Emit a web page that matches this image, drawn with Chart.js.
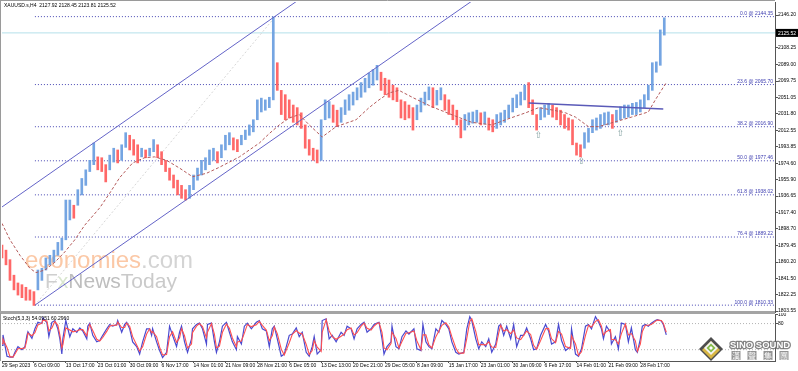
<!DOCTYPE html>
<html><head><meta charset="utf-8">
<script src="https://cdn.jsdelivr.net/npm/chart.js@4.4.1/dist/chart.umd.min.js"></script>
<style>
html,body{margin:0;padding:0;background:#fff;width:798px;height:371px;overflow:hidden}
#wrap{position:relative;width:798px;height:371px}
canvas{position:absolute;left:0}
#c1{top:0;width:798px;height:313px}
#c2{top:313px;width:798px;height:58px}
</style></head><body>
<div id="wrap">
<canvas id="c1" width="798" height="313"></canvas>
<canvas id="c2" width="798" height="58"></canvas>
</div>
<script>
// ---------- DATA ----------
const symbolName = 'XAUUSD.s,H4';
const lastOHLC = [2127.92, 2128.45, 2123.81, 2125.52];
const timeLabels = ["29 Sep 2023","6 Oct 09:00","13 Oct 17:00","23 Oct 01:00","30 Oct 09:00","6 Nov 17:00","14 Nov 01:00","21 Nov 09:00","28 Nov 21:00","6 Dec 05:00","13 Dec 13:00","20 Dec 21:00","29 Dec 05:00","8 Jan 09:00","15 Jan 17:00","23 Jan 01:00","30 Jan 09:00","6 Feb 17:00","14 Feb 01:00","21 Feb 09:00","28 Feb 17:00"];
const priceTicks = [2146.20,2127.50,2108.25,2089.00,2069.75,2051.05,2031.80,2012.55,1993.85,1974.60,1955.90,1936.65,1917.40,1898.70,1879.45,1860.20,1841.50,1822.25,1803.55];
// bar samples every 4 H4 bars
const candleHigh = [1880,1874,1863,1845,1836,1834,1831,1828,1826,1851,
1853,1865,1868,1874,1883,1888,1932,1932,1926,1944,
1957,1967,1978,1998,1982,1981,1973,1984,1992,1990,
1996,2010,2007,2002,1996,1992,1990,1992,2002,1996,
1988,1978,1969,1961,1955,1949,1944,1949,1961,1969,
1978,1981,1990,1992,1988,1996,2007,2010,2004,2002,
2007,2013,2019,2025,2048,2050,2048,2051,2144,2091,
2059,2054,2048,2042,2039,2033,2019,2002,1992,1990,
2025,2048,2046,2042,2036,2039,2048,2054,2057,2062,
2068,2073,2079,2083,2088,2080,2073,2071,2065,2062,
2048,2046,2042,2039,2042,2050,2057,2063,2062,2059,
2062,2054,2048,2042,2036,2025,2031,2033,2034,2036,
2033,2034,2027,2025,2031,2033,2036,2042,2050,2054,
2057,2065,2068,2048,2031,2039,2042,2044,2042,2039,
2036,2031,2027,2025,1998,1996,2010,2015,2025,2027,
2031,2033,2034,2031,2036,2040,2042,2042,2044,2045,
2048,2054,2065,2091,2092,2129,2143];
const candleLow = [1865,1857,1839,1828,1822,1819,1816,1816,1810,1828,
1839,1851,1857,1860,1868,1874,1886,1909,1911,1926,
1938,1949,1965,1973,1967,1965,1953,1967,1976,1975,
1978,1993,1990,1984,1975,1982,1981,1983,1988,1981,
1973,1965,1955,1946,1938,1934,1932,1934,1944,1955,
1961,1967,1973,1978,1975,1981,1990,1996,1990,1988,
1996,2002,2007,2011,2025,2034,2036,2039,2048,2059,
2031,2025,2027,2022,2019,2015,1992,1984,1978,1975,
1978,2025,2027,2022,2017,2022,2031,2036,2042,2048,
2051,2057,2062,2065,2071,2059,2054,2051,2048,2046,
2027,2025,2027,2013,2025,2034,2042,2048,2039,2042,
2048,2036,2031,2025,2019,2004,2013,2019,2021,2022,
2019,2020,2013,2011,2015,2019,2022,2027,2034,2039,
2042,2048,2039,2031,2013,2025,2028,2031,2028,2025,
2019,2015,2013,1996,1984,1982,1992,1999,2010,2013,
2015,2019,2019,2015,2022,2025,2027,2028,2031,2031,
2034,2039,2048,2059,2080,2088,2123];
const maBars = [0,8,18,28,34,43,53,63,73,83,98,108,118,131,143,153,165,178,191,205,218,238,258,268,278,288,298,308,321,335,355,368,378,388,398,413,431,455,471,491,505,525,538,553,565,575,588,598,613,631,648,655,666];
const maValues = [1905,1886,1868,1853,1848,1851,1860,1872,1886,1903,1923,1940,1958,1975,1981,1982,1978,1969,1959,1963,1970,1982,1998,2009,2019,2027,2031,2019,2005,2017,2025,2039,2048,2056,2059,2050,2040,2029,2022,2019,2025,2033,2039,2036,2033,2028,2017,2017,2022,2028,2034,2048,2068];
const fibLevels = ["0.0","23.6","38.2","50.0","61.8","76.4","100.0"];
const fibPrices = [2144.35,2065.70,2016.90,1977.46,1938.02,1889.22,1810.33];
const fibStartBar = 33;
const channelUpper = [[0,1924],[320,2182]];
const channelLower = [[33,1810.33],[488,2176]];
const fibTrend = [[33,1810.33],[274,2144.35]];
const resistLine = [[528,2044.4],[663,2037.4]];
const arrowBars = [538,581,620];
const arrowPrices = [2006,1976,2009];
const stochBars = [0,1,5,8,11,13,16,20,23,25,26,30,33,36,40,41,45,47,50,53,56,58,60,61,64,68,71,75,78,81,85,86,88,91,95,98,101,105,108,111,115,116,120,123,125,128,131,135,138,141,145,148,150,151,155,158,161,165,168,171,175,178,180,183,186,190,191,195,198,201,205,206,210,213,215,218,221,225,228,231,235,236,240,243,246,250,255,258,261,265,268,271,273,276,280,283,288,291,295,298,301,305,308,311,313,316,320,321,325,328,331,335,340,343,346,350,353,356,360,363,366,370,373,376,378,381,383,386,390,391,395,398,401,405,408,413,416,420,422,425,428,431,435,438,441,445,448,451,455,458,463,466,469,471,475,478,481,485,488,491,495,498,500,503,506,510,513,516,520,523,526,530,533,536,540,545,548,551,555,558,561,565,570,571,575,578,581,585,588,591,595,598,601,603,606,610,611,615,618,621,625,628,631,635,637,640,642,645,648,651,655,657,661,663,666];
const stochK = [30,54,5,3,3,14,27,20,27,53,61,46,68,83,80,93,82,50,83,87,68,45,10,45,87,50,68,60,70,63,45,74,81,53,38,41,53,68,78,74,78,87,60,78,83,68,38,27,10,38,68,68,53,68,38,18,2,14,74,53,27,60,74,38,14,45,68,78,81,68,33,78,81,38,14,38,74,83,60,38,20,50,33,74,81,68,83,87,68,63,27,68,74,45,5,10,53,56,70,50,60,14,5,27,50,10,20,87,91,45,53,38,60,53,74,68,45,68,78,83,60,68,78,81,83,45,10,27,38,74,27,22,50,63,56,68,22,18,78,38,27,22,68,60,87,78,68,38,14,10,14,68,96,87,45,22,38,27,45,14,33,74,78,53,74,45,78,27,53,53,70,45,20,22,53,78,63,33,38,78,41,18,27,68,10,5,22,74,78,68,96,84,68,45,74,60,33,50,22,81,78,38,70,20,14,45,74,78,74,81,87,89,86,78,54];
const stochD = [34,44,25,4,3,10,22,23,24,43,58,52,59,77,81,88,86,63,70,85,76,54,24,31,70,65,61,63,66,66,52,62,78,64,44,40,48,62,74,76,76,83,71,71,81,74,50,31,17,27,56,68,59,62,50,26,8,9,50,61,37,47,68,52,24,33,59,74,80,73,47,60,80,55,24,28,60,79,69,47,27,38,40,58,78,73,77,85,76,65,41,52,72,57,21,8,36,55,64,58,56,32,9,18,41,26,16,60,89,63,50,44,51,56,66,70,54,59,74,81,69,65,74,80,82,60,24,20,34,60,46,24,39,58,59,63,40,20,54,54,31,24,50,63,76,82,72,50,24,12,12,46,85,91,62,31,32,31,38,26,25,58,76,63,66,57,65,47,43,53,63,55,30,21,41,68,69,45,36,62,56,27,23,52,33,7,15,53,76,72,85,89,74,54,62,66,44,43,33,57,79,54,57,40,16,33,62,76,76,78,85,88,87,81,60];
const stochLabelValues = ['54.0951','60.2960'];
const stochLevels = [80,20];
const stochTicks = [100,80];

// ---------- HELPERS ----------
const FONT = '"Liberation Sans", Arial, sans-serif';
const XMAX = 775;
const pts = arr => arr.map(p => ({x:p[0], y:p[1]}));
const lineDs = (data, color, width, dash, order) => ({type:'line', data, borderColor:color, borderWidth:width, borderDash:dash||[], pointRadius:0, fill:false, order:order, tension:0});

// ---------- MAIN CHART ----------
const upCol = 'rgba(110,160,224,0.95)', dnCol = 'rgba(255,96,96,0.95)';
const candleData = candleHigh.map((h,i) => ({x:i*4, y:[candleLow[i], h]}));
const mainDatasets = [
  {type:'bar', data:candleData, barThickness:2, borderWidth:0, grouped:false, order:2,
   backgroundColor: ctx => { const i = ctx.dataIndex; if (!i) return dnCol;
     return (candleHigh[i]+candleLow[i]) >= (candleHigh[i-1]+candleLow[i-1]) ? upCol : dnCol; }},
  lineDs(maBars.map((b,i)=>({x:b,y:maValues[i]})), '#b45a5a', 1, [3,2], 1),
  lineDs(pts(channelUpper), '#6464c8', 1, [], 1),
  lineDs(pts(channelLower), '#6464c8', 1, [], 1),
  lineDs(pts(fibTrend), '#d6d6d6', 1, [2,2], 3),
  lineDs(pts(resistLine), '#5a5ab8', 1.5, [], 1),
  lineDs([{x:0,y:lastOHLC[3]},{x:XMAX,y:lastOHLC[3]}], '#b4e0ea', 1, [], 3),
];
fibPrices.forEach(p => mainDatasets.push(lineDs([{x:fibStartBar,y:p},{x:XMAX,y:p}], '#4848b4', 1, [1,2], 3)));

const mainDeco = {
  id:'mainDeco',
  beforeDatasetsDraw(chart){
    const c = chart.ctx; c.save();
    c.textBaseline = 'alphabetic'; c.textAlign = 'left';
    c.font = '24px ' + FONT;
    c.fillStyle = '#fbc8a6'; c.fillText('economies', 25, 268);
    const w = c.measureText('economies').width;
    c.fillStyle = '#d4d4d4'; c.fillText('.com', 25 + w, 268);
    c.font = '21px ' + FONT;
    let x = 45;
    [['F','#cfcfcf'],['x','#d9e6cf'],['News','#bebebe'],['Today','#cacaca']].forEach(([t,col]) => {
      c.fillStyle = col; c.fillText(t, x, 288); x += c.measureText(t).width; });
    c.restore();
  },
  afterDatasetsDraw(chart){
    const {ctx:c, scales:{x, y}, chartArea:a} = chart;
    c.save();
    c.font = '5px ' + FONT; c.fillStyle = '#3c3cb0'; c.textAlign = 'right'; c.textBaseline = 'bottom';
    fibLevels.forEach((lv,i) => c.fillText(lv + ' @ ' + fibPrices[i].toFixed(2), a.right - 2, y.getPixelForValue(fibPrices[i]) - 0.5));
    c.font = '9px "DejaVu Sans", sans-serif'; c.fillStyle = '#7f9e9e'; c.textAlign = 'center'; c.textBaseline = 'middle';
    arrowBars.forEach((b,i) => c.fillText('\u21E7', x.getPixelForValue(b), y.getPixelForValue(arrowPrices[i])));
    c.restore();
  },
  afterDraw(chart){
    const {ctx:c, scales:{y}, chartArea:a} = chart;
    c.save();
    c.font = '5px ' + FONT; c.fillStyle = '#000'; c.textAlign = 'left'; c.textBaseline = 'middle';
    c.fillText(symbolName + '  ' + lastOHLC.map(v=>v.toFixed(2)).join(' '), 4, 6);
    const py = y.getPixelForValue(lastOHLC[3]);
    c.fillStyle = '#000'; c.fillRect(a.right + 1, py - 4, 22, 8);
    c.fillStyle = '#fff'; c.fillText(lastOHLC[3].toFixed(2), a.right + 3, py + 0.5);
    c.strokeStyle = '#9a9a9a'; c.lineWidth = 1;
    c.beginPath(); c.moveTo(0, 0.5); c.lineTo(a.right, 0.5); c.moveTo(0.5, 0); c.lineTo(0.5, 313); c.stroke();
    c.fillStyle = '#a4a4a4'; c.fillRect(0, 311, a.right, 2);
    c.restore();
  }
};

new Chart(document.getElementById('c1'), {
  type:'bar',
  data:{datasets: mainDatasets},
  options:{
    responsive:false, animation:false, events:[],
    layout:{padding:{left:2, top:2, right:0, bottom:1}},
    plugins:{legend:{display:false}, tooltip:{enabled:false}},
    scales:{
      x:{type:'linear', display:false, offset:false, min:0, max:XMAX},
      y:{type:'linear', position:'right', min:1802.4, max:2161.3,
         afterFit(s){ s.width = 23; s.paddingTop = 0; s.paddingBottom = 0; },
         afterBuildTicks(s){ s.ticks = priceTicks.map(v => ({value:v})); },
         ticks:{font:{size:5, family:FONT}, color:'#000', padding:0, callback:v => Number(v).toFixed(2)},
         grid:{drawOnChartArea:false, tickLength:3, color:'#555'},
         border:{display:true, color:'#555'}}
    }
  },
  plugins:[mainDeco]
});

// ---------- STOCH CHART ----------
const stochDatasets = [
  lineDs(stochBars.map((b,i)=>({x:b,y:stochK[i]})), '#4a4ad0', 1.2, [], 1),
  lineDs(stochBars.map((b,i)=>({x:b,y:stochD[i]})), '#ff5050', 1.1, [], 0),
];
stochLevels.forEach(l => stochDatasets.push(lineDs([{x:0,y:l},{x:XMAX,y:l}], '#b4b4b4', 1, [1,2], 3)));

function diamond(c, cx, cy, r, col){ c.fillStyle = col; c.beginPath(); c.moveTo(cx, cy - r); c.lineTo(cx + r, cy); c.lineTo(cx, cy + r); c.lineTo(cx - r, cy); c.closePath(); c.fill(); }

const stochDeco = {
  id:'stochDeco',
  afterDraw(chart){
    const c = chart.ctx, a = chart.chartArea;
    c.save();
    c.font = '5px ' + FONT; c.fillStyle = '#000'; c.textAlign = 'left'; c.textBaseline = 'middle';
    c.fillText('Stoch(5,3,3) ' + stochLabelValues.join(' '), 3, 5.5);
    c.fillStyle = '#a4a4a4'; c.fillRect(0, 0, a.right, 1);
    c.strokeStyle = '#9a9a9a'; c.lineWidth = 1;
    c.beginPath(); c.moveTo(0.5, 0); c.lineTo(0.5, a.bottom); c.stroke();
    // logo
    diamond(c, 711, 36, 12, '#4e4e4e');
    diamond(c, 711, 37, 9, '#d8b644');
    diamond(c, 711, 35, 7, '#f4f4f4');
    diamond(c, 711, 35, 4.5, '#86bb48');
    diamond(c, 711, 35, 2, '#ffffff');
    c.font = 'bold 9.5px ' + FONT; c.textBaseline = 'alphabetic';
    c.lineJoin = 'round'; c.strokeStyle = 'rgba(110,110,110,0.85)'; c.lineWidth = 2.5;
    c.strokeText('SINO SOUND', 730, 35); c.fillStyle = '#ffffff'; c.fillText('SINO SOUND', 730, 35);
    c.font = '8px "Noto Sans CJK TC", sans-serif'; c.textBaseline = 'middle';
    ['漢','聲','集','團'].forEach((ch,i) => { const xx = 732 + i * 16;
      c.fillStyle = 'rgba(120,120,120,0.8)'; c.fillRect(xx - 0.5, 38, 9, 9);
      c.fillStyle = '#fff'; c.fillText(ch, xx, 42.5); });
    c.restore();
  }
};

new Chart(document.getElementById('c2'), {
  type:'line',
  data:{datasets: stochDatasets},
  options:{
    responsive:false, animation:false, events:[],
    layout:{padding:{left:2, top:1, right:0, bottom:0}},
    plugins:{legend:{display:false}, tooltip:{enabled:false}},
    scales:{
      x:{type:'linear', min:0, max:XMAX, offset:false,
         afterFit(s){ s.height = 10; s.paddingLeft = 0; s.paddingRight = 0; },
         afterBuildTicks(s){ s.ticks = timeLabels.map((t,i) => ({value:i*32})); },
         ticks:{font:{size:5, family:FONT}, color:'#000', padding:0, align:'start', autoSkip:false, maxRotation:0,
                callback:(v,i) => timeLabels[i]},
         grid:{drawOnChartArea:false, tickLength:2, color:'#555'},
         border:{display:true, color:'#555'}},
      y:{type:'linear', position:'right', min:-6, max:102,
         afterFit(s){ s.width = 23; s.paddingTop = 0; s.paddingBottom = 0; },
         afterBuildTicks(s){ s.ticks = stochTicks.map(v => ({value:v})); },
         ticks:{font:{size:5, family:FONT}, color:'#000', padding:0},
         grid:{drawOnChartArea:false, tickLength:3, color:'#555'},
         border:{display:true, color:'#555'}}
    }
  },
  plugins:[stochDeco]
});
</script>
</body></html>
